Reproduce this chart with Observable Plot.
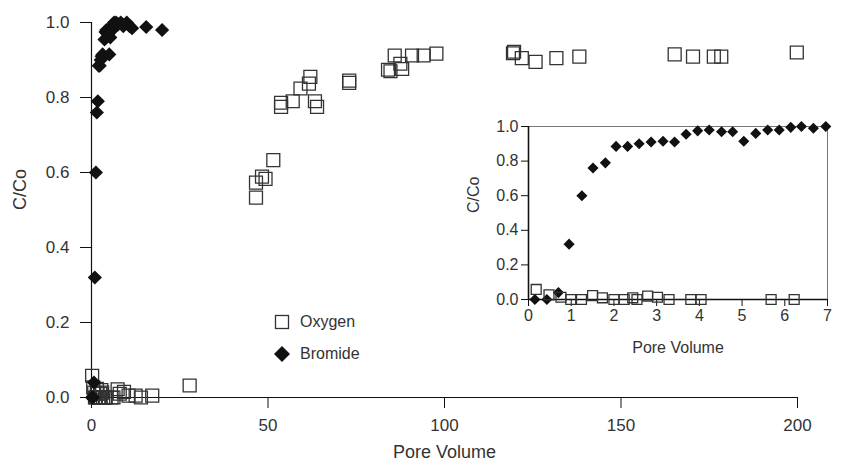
<!DOCTYPE html>
<html>
<head>
<meta charset="utf-8">
<script src="https://cdn.jsdelivr.net/npm/d3@7"></script>
<script src="https://cdn.jsdelivr.net/npm/@observablehq/plot@0.6"></script>
<style>
  html, body { margin: 0; padding: 0; background: #fff; }
  #wrap { position: relative; width: 848px; height: 467px; font-family: "Liberation Sans", Arial, sans-serif; color: #333; }
  #inset { position: absolute; left: 462px; top: 110px; }
  #legend { position: absolute; left: 270px; top: 306px; font-size: 16px; color: #333; }
  .lg { display: flex; align-items: center; height: 32px; }
  .lg svg { margin-right: 6px; }
</style>
</head>
<body>
<div id="wrap">
  <div id="main"></div>
  <div id="inset"></div>
  <div id="legend"></div>
</div>
<script>
// ---- Data ----
const seriesNames = ["Oxygen", "Bromide"];

const oxygenPV = [0.18, 0.48, 0.76, 0.99, 1.24, 1.50, 1.73, 2.0, 2.24, 2.44, 2.54, 2.79, 3.02, 3.29, 3.80, 4.04, 5.68, 6.22,
  7.4, 8.0, 9.2, 10.5, 12.5, 14.0, 17.2, 27.8,
  46.6, 46.6, 48.3, 49.3, 51.5, 53.7, 53.7, 57.0, 59.2, 61.6, 62.0, 63.3, 63.9, 73.0, 73.0,
  84.0, 84.7, 85.9, 87.5, 88.0, 90.8, 94.1, 97.7,
  119.4, 119.7, 121.9, 125.8, 131.7, 138.2, 165.2, 170.4, 176.3, 178.4, 199.8];
const oxygenC = [0.058, 0.027, 0.013, 0, 0, 0.023, 0.01, 0, 0, 0.01, 0, 0.02, 0.013, 0, 0, 0, 0, 0,
  0.022, 0.01, 0.015, 0.005, 0.005, 0.0, 0.005, 0.032,
  0.533, 0.573, 0.589, 0.583, 0.633, 0.786, 0.775, 0.79, 0.824, 0.837, 0.855, 0.79, 0.775, 0.839, 0.845,
  0.874, 0.87, 0.912, 0.89, 0.876, 0.912, 0.912, 0.917,
  0.918, 0.922, 0.905, 0.895, 0.905, 0.909, 0.915, 0.909, 0.909, 0.909, 0.92];

const bromidePV = [0.15, 0.43, 0.70, 0.95, 1.25, 1.51, 1.80, 2.05, 2.32, 2.59, 2.87, 3.15, 3.42, 3.69, 3.96, 4.23, 4.52, 4.78,
  5.04, 5.32, 5.60, 5.87, 6.14, 6.39, 6.67, 6.96,
  7.5, 8.3, 9.0, 10.0, 10.8, 11.5, 15.5, 20.0];
const bromideC = [0, 0, 0.04, 0.32, 0.60, 0.76, 0.79, 0.885, 0.885, 0.90, 0.91, 0.915, 0.91, 0.955, 0.975, 0.98, 0.97, 0.97,
  0.915, 0.96, 0.98, 0.98, 0.995, 1.0, 0.99, 1.0,
  0.995, 1.0, 0.99, 1.0, 0.99, 0.985, 0.988, 0.98];

const mainXTicks = [0, 50, 100, 150, 200];
const mainYTicks = [0, 0.2, 0.4, 0.6, 0.8, 1.0];
const insetXTicks = [0, 1, 2, 3, 4, 5, 6, 7];
const insetYTicks = [0, 0.2, 0.4, 0.6, 0.8, 1.0];
const xLabel = "Pore Volume";
const yLabel = "C/Co";

// ---- Tables ----
const oxygen = oxygenPV.map((x, i) => ({x, y: oxygenC[i]}));
const bromide = bromidePV.map((x, i) => ({x, y: bromideC[i]}));
const oxygenInset = oxygen.filter(d => d.x <= 7);
const bromideInset = bromide.filter(d => d.x <= 7);

const fmt1 = d3.format(".1f");
const FONT = "'Liberation Sans', Arial, sans-serif";

// ---- Main chart ----
const main = Plot.plot({
  width: 848,
  height: 467,
  marginLeft: 91,
  marginRight: 51,
  marginTop: 22,
  marginBottom: 70,
  style: {fontFamily: FONT, fontSize: "17px", color: "#333", background: "transparent", overflow: "visible"},
  x: {domain: [0, 200]},
  y: {domain: [0, 1]},
  marks: [
    Plot.axisX({ticks: mainXTicks, tickSize: 11, tickPadding: 10, tickFormat: d => String(d), stroke: "#111",
      label: null, fontSize: 17}),
    Plot.axisY({ticks: mainYTicks, tickSize: 11, tickPadding: 11, tickFormat: fmt1, stroke: "#111",
      label: null, fontSize: 17}),
    Plot.text([xLabel], {text: d => d, frameAnchor: "bottom", dy: 55, lineAnchor: "middle", fontSize: 18, fill: "#333"}),
    Plot.text([yLabel], {text: d => d, frameAnchor: "left", dx: -71, rotate: -90, lineAnchor: "middle", fontSize: 18, fill: "#333"}),
    Plot.ruleX([0], {stroke: "#111", strokeWidth: 1.2}),
    Plot.ruleY([0], {stroke: "#111", strokeWidth: 1.2}),
    Plot.dot(oxygen, {x: "x", y: "y", symbol: "square", r: 7.3, stroke: "#333", strokeWidth: 1.3, fill: "none"}),
    Plot.dot(bromide, {x: "x", y: "y", symbol: "diamond2", r: 6.4, fill: "#111", stroke: "none"})
  ]
});
document.getElementById("main").appendChild(main);

// ---- Inset ----
const inset = Plot.plot({
  width: 378,
  height: 265,
  marginLeft: 66,
  marginRight: 13,
  marginTop: 16,
  marginBottom: 76,
  style: {fontFamily: FONT, fontSize: "16px", color: "#333", background: "white", overflow: "visible"},
  x: {domain: [0, 7]},
  y: {domain: [0, 1]},
  marks: [
    Plot.ruleY([1], {stroke: "#777", strokeWidth: 1}),
    Plot.ruleX([7], {stroke: "#777", strokeWidth: 1}),
    Plot.axisX({ticks: insetXTicks, tickSize: 7, tickPadding: 3, tickFormat: d => String(d), stroke: "#111",
      label: null, fontSize: 16}),
    Plot.axisY({ticks: insetYTicks, tickSize: 7, tickPadding: 3, tickFormat: fmt1, stroke: "#111",
      label: null, fontSize: 16}),
    Plot.text([xLabel], {text: d => d, frameAnchor: "bottom", dy: 48, lineAnchor: "middle", fontSize: 16, fill: "#333"}),
    Plot.text([yLabel], {text: d => d, frameAnchor: "left", dx: -55, rotate: -90, lineAnchor: "middle", fontSize: 16, fill: "#333"}),
    Plot.ruleX([0], {stroke: "#111", strokeWidth: 1.6}),
    Plot.ruleY([0], {stroke: "#111", strokeWidth: 1.6}),
    Plot.dot(bromideInset, {x: "x", y: "y", symbol: "diamond2", r: 5, fill: "#111", stroke: "none"}),
    Plot.dot(oxygenInset, {x: "x", y: "y", symbol: "square", r: 5.6, stroke: "#333", strokeWidth: 1.3, fill: "none"})
  ]
});
document.getElementById("inset").appendChild(inset);

// ---- Legend ----
const legend = document.getElementById("legend");
const symbols = {
  Oxygen: '<svg width="24" height="24"><rect x="5.5" y="5.5" width="13" height="13" fill="none" stroke="#333" stroke-width="1.3"/></svg>',
  Bromide: '<svg width="24" height="24"><path d="M12,4L20,12L12,20L4,12Z" fill="#111"/></svg>'
};
seriesNames.forEach(name => {
  const row = document.createElement("div");
  row.className = "lg";
  row.innerHTML = symbols[name] + '<span>' + name + '</span>';
  legend.appendChild(row);
});
</script>
</body>
</html>
